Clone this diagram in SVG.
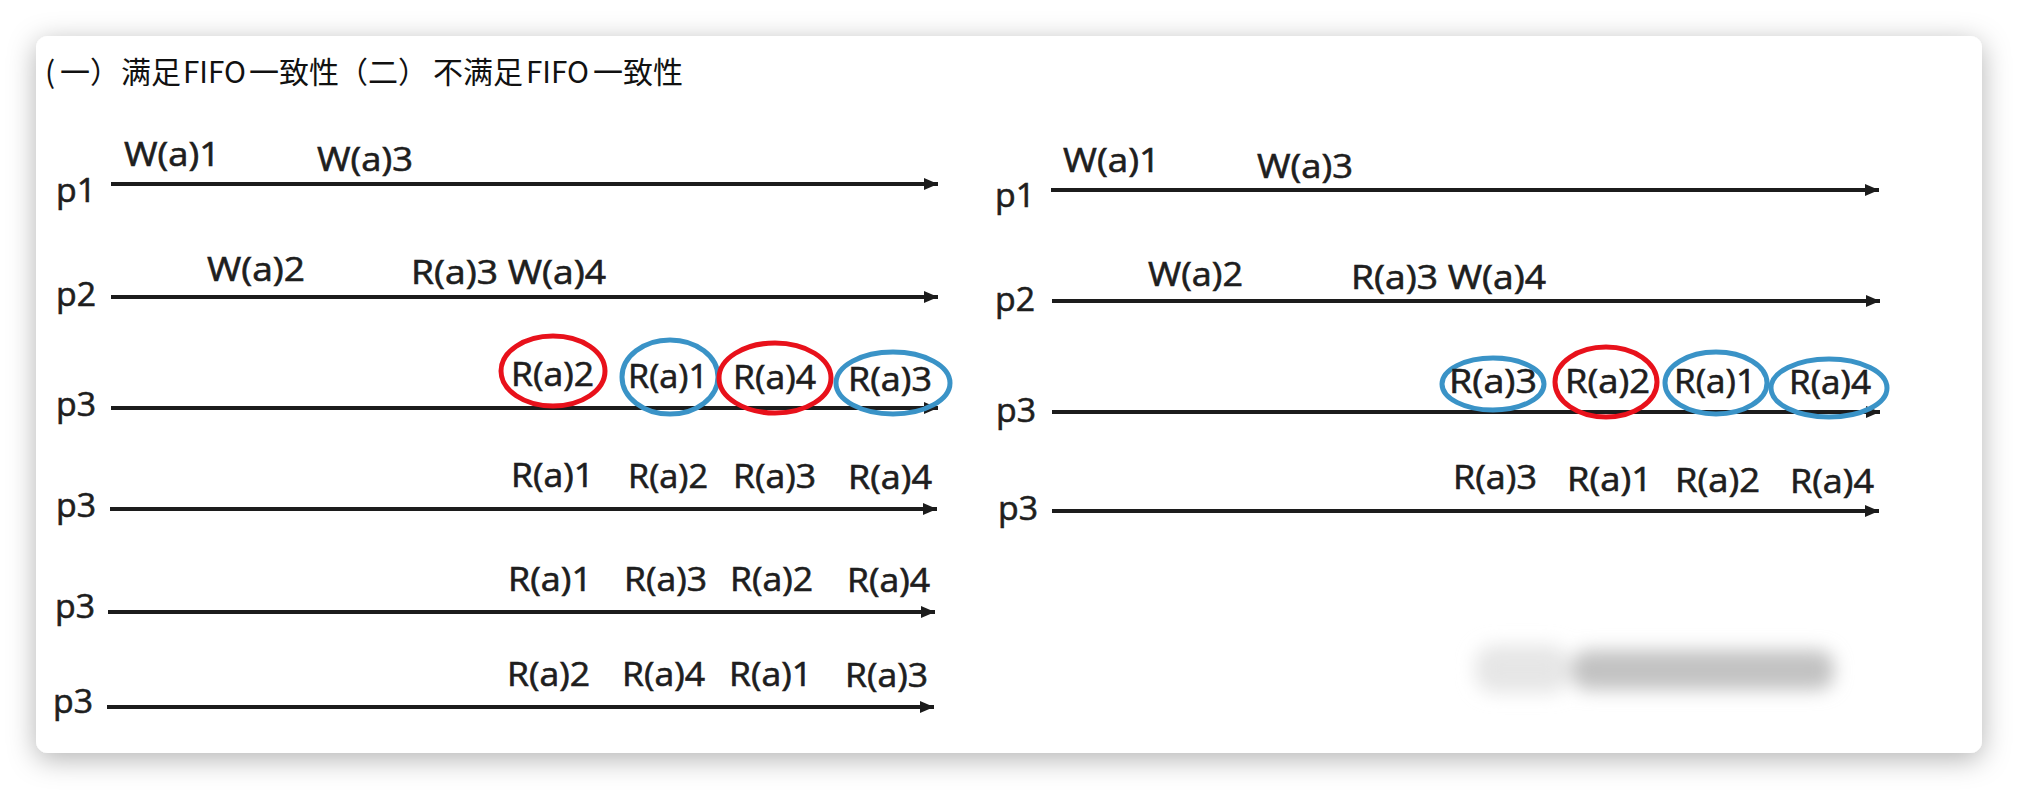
<svg xmlns="http://www.w3.org/2000/svg" width="2018" height="790" viewBox="0 0 2018 790">
<defs>
<style>
.lbl{font-family:"Open Sans","Liberation Sans",sans-serif;font-size:32px;fill:#1e1e1e;stroke:#1e1e1e;stroke-width:0.6;}
.ttl{font-family:"Noto Sans CJK SC","Noto Sans",sans-serif;font-size:30px;fill:#111;}
.tl{stroke:#1c1c1c;stroke-width:4;fill:none;marker-end:url(#ah);}
.red{fill:none;stroke:#e8111b;stroke-width:5;}
.blue{fill:none;stroke:#3a93c7;stroke-width:5;}
</style>
<marker id="ah" markerUnits="userSpaceOnUse" markerWidth="16" markerHeight="14" refX="14" refY="6" orient="auto">
<path d="M0,0 L14,6 L0,12 z" fill="#1c1c1c"/>
</marker>
<filter id="sh" x="-10%" y="-20%" width="120%" height="140%">
<feDropShadow dx="0" dy="6" stdDeviation="14" flood-color="#000" flood-opacity="0.3"/>
</filter>
<filter id="bl" x="-20%" y="-100%" width="140%" height="300%">
<feGaussianBlur stdDeviation="9"/>
</filter>
</defs>
<rect x="0" y="0" width="2018" height="790" fill="#ffffff"/>
<rect x="36" y="36" width="1946" height="717" rx="12" fill="#ffffff" filter="url(#sh)"/>
<text class="ttl" y="83"><tspan x="45">(</tspan><tspan x="60">一）</tspan><tspan x="121">满足</tspan><tspan x="183" textLength="63" lengthAdjust="spacingAndGlyphs">FIFO</tspan><tspan x="249">一致性</tspan><tspan x="338">（二）</tspan><tspan x="433">不满足</tspan><tspan x="526" textLength="63" lengthAdjust="spacingAndGlyphs">FIFO</tspan><tspan x="593">一致性</tspan></text>

<g id="connectors">
<line class="tl" x1="111" y1="184" x2="938" y2="184"/>
<line class="tl" x1="111" y1="297" x2="938" y2="297"/>
<line class="tl" x1="111" y1="408" x2="938" y2="408"/>
<line class="tl" x1="110" y1="509" x2="937" y2="509"/>
<line class="tl" x1="108" y1="612" x2="935" y2="612"/>
<line class="tl" x1="107" y1="707" x2="934" y2="707"/>
<line class="tl" x1="1051" y1="190" x2="1879" y2="190"/>
<line class="tl" x1="1052" y1="301" x2="1880" y2="301"/>
<line class="tl" x1="1052" y1="412" x2="1880" y2="412"/>
<line class="tl" x1="1052" y1="511" x2="1879" y2="511"/>
</g>

<g id="left-p1">
<text class="lbl" x="56" y="202" textLength="40" lengthAdjust="spacingAndGlyphs">p1</text>
<text class="lbl" x="124" y="166" textLength="96" lengthAdjust="spacingAndGlyphs">W(a)1</text>
<text class="lbl" x="317" y="171" textLength="96" lengthAdjust="spacingAndGlyphs">W(a)3</text>
</g>
<g id="left-p2">
<text class="lbl" x="56" y="306" textLength="40" lengthAdjust="spacingAndGlyphs">p2</text>
<text class="lbl" x="207" y="281" textLength="98" lengthAdjust="spacingAndGlyphs">W(a)2</text>
<text class="lbl" x="411" y="284" textLength="195" lengthAdjust="spacingAndGlyphs">R(a)3 W(a)4</text>
</g>
<g id="left-p3-a">
<text class="lbl" x="56" y="416" textLength="40" lengthAdjust="spacingAndGlyphs">p3</text>
<ellipse class="red" cx="553" cy="371" rx="52" ry="35"/>
<ellipse class="blue" cx="670" cy="377" rx="48" ry="37"/>
<ellipse class="red" cx="775" cy="378" rx="56" ry="35"/>
<ellipse class="blue" cx="893" cy="383" rx="57" ry="31"/>
<text class="lbl" x="511" y="386" textLength="83" lengthAdjust="spacingAndGlyphs">R(a)2</text>
<text class="lbl" x="628" y="388" textLength="80" lengthAdjust="spacingAndGlyphs">R(a)1</text>
<text class="lbl" x="733" y="389" textLength="83" lengthAdjust="spacingAndGlyphs">R(a)4</text>
<text class="lbl" x="848" y="391" textLength="84" lengthAdjust="spacingAndGlyphs">R(a)3</text>
</g>
<g id="left-p3-b">
<text class="lbl" x="56" y="517" textLength="40" lengthAdjust="spacingAndGlyphs">p3</text>
<text class="lbl" x="511" y="487" textLength="83" lengthAdjust="spacingAndGlyphs">R(a)1</text>
<text class="lbl" x="628" y="488" textLength="80" lengthAdjust="spacingAndGlyphs">R(a)2</text>
<text class="lbl" x="733" y="488" textLength="83" lengthAdjust="spacingAndGlyphs">R(a)3</text>
<text class="lbl" x="848" y="489" textLength="84" lengthAdjust="spacingAndGlyphs">R(a)4</text>
</g>
<g id="left-p3-c">
<text class="lbl" x="55" y="618" textLength="40" lengthAdjust="spacingAndGlyphs">p3</text>
<text class="lbl" x="508" y="591" textLength="84" lengthAdjust="spacingAndGlyphs">R(a)1</text>
<text class="lbl" x="624" y="591" textLength="83" lengthAdjust="spacingAndGlyphs">R(a)3</text>
<text class="lbl" x="730" y="591" textLength="83" lengthAdjust="spacingAndGlyphs">R(a)2</text>
<text class="lbl" x="847" y="592" textLength="83" lengthAdjust="spacingAndGlyphs">R(a)4</text>
</g>
<g id="left-p3-d">
<text class="lbl" x="53" y="713" textLength="40" lengthAdjust="spacingAndGlyphs">p3</text>
<text class="lbl" x="507" y="686" textLength="83" lengthAdjust="spacingAndGlyphs">R(a)2</text>
<text class="lbl" x="622" y="686" textLength="83" lengthAdjust="spacingAndGlyphs">R(a)4</text>
<text class="lbl" x="729" y="686" textLength="83" lengthAdjust="spacingAndGlyphs">R(a)1</text>
<text class="lbl" x="845" y="687" textLength="83" lengthAdjust="spacingAndGlyphs">R(a)3</text>
</g>

<g id="right-p1">
<text class="lbl" x="995" y="207" textLength="40" lengthAdjust="spacingAndGlyphs">p1</text>
<text class="lbl" x="1063" y="172" textLength="97" lengthAdjust="spacingAndGlyphs">W(a)1</text>
<text class="lbl" x="1257" y="178" textLength="96" lengthAdjust="spacingAndGlyphs">W(a)3</text>
</g>
<g id="right-p2">
<text class="lbl" x="995" y="311" textLength="40" lengthAdjust="spacingAndGlyphs">p2</text>
<text class="lbl" x="1148" y="286" textLength="95" lengthAdjust="spacingAndGlyphs">W(a)2</text>
<text class="lbl" x="1351" y="289" textLength="195" lengthAdjust="spacingAndGlyphs">R(a)3 W(a)4</text>
</g>
<g id="right-p3-a">
<text class="lbl" x="996" y="422" textLength="40" lengthAdjust="spacingAndGlyphs">p3</text>
<ellipse class="blue" cx="1493" cy="384" rx="51" ry="26"/>
<ellipse class="red" cx="1606" cy="382" rx="51" ry="35"/>
<ellipse class="blue" cx="1716" cy="383" rx="51" ry="31"/>
<ellipse class="blue" cx="1829" cy="388" rx="58" ry="29"/>
<text class="lbl" x="1449" y="393" textLength="88" lengthAdjust="spacingAndGlyphs">R(a)3</text>
<text class="lbl" x="1565" y="393" textLength="85" lengthAdjust="spacingAndGlyphs">R(a)2</text>
<text class="lbl" x="1674" y="393" textLength="82" lengthAdjust="spacingAndGlyphs">R(a)1</text>
<text class="lbl" x="1789" y="394" textLength="82" lengthAdjust="spacingAndGlyphs">R(a)4</text>
</g>
<g id="right-p3-b">
<text class="lbl" x="998" y="520" textLength="40" lengthAdjust="spacingAndGlyphs">p3</text>
<text class="lbl" x="1453" y="489" textLength="84" lengthAdjust="spacingAndGlyphs">R(a)3</text>
<text class="lbl" x="1567" y="491" textLength="85" lengthAdjust="spacingAndGlyphs">R(a)1</text>
<text class="lbl" x="1675" y="492" textLength="85" lengthAdjust="spacingAndGlyphs">R(a)2</text>
<text class="lbl" x="1790" y="493" textLength="84" lengthAdjust="spacingAndGlyphs">R(a)4</text>
</g>

<g id="watermark" filter="url(#bl)">
<rect x="1475" y="645" width="95" height="48" rx="20" fill="#e6e6e6"/>
<rect x="1572" y="650" width="262" height="40" rx="16" fill="#c2c2c2"/>
</g>
</svg>
